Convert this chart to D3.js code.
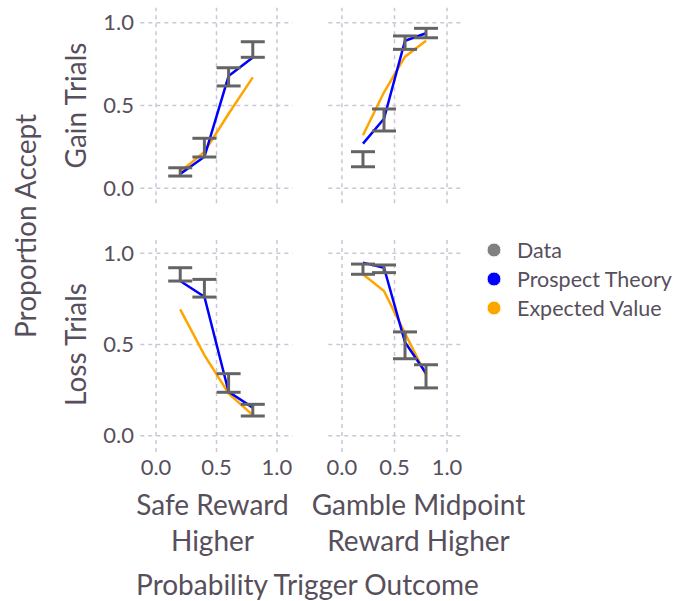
<!DOCTYPE html>
<html>
<head>
<meta charset="utf-8">
<script src="https://cdn.jsdelivr.net/npm/d3@7"></script>
<style>
  html, body { margin: 0; padding: 0; background: #fff; }
  svg text { font-family: Lato, "Open Sans", sans-serif; fill: #574f5c; }
</style>
</head>
<body>
<svg id="chart" width="675" height="601"></svg>
<script>
// Probability levels at which each condition was tested
const probs = [0.2, 0.4, 0.6, 0.8];

// Row / column facets
const rowLabels = ["Gain Trials", "Loss Trials"];
const colLabels = [["Safe Reward", "Higher"], ["Gamble Midpoint", "Reward Higher"]];
const tickValues = [0.0, 0.5, 1.0];

// Observed proportion accept: lower / upper bounds of the error bars
const gainSafeLo = [0.074, 0.189, 0.618, 0.791];
const gainSafeHi = [0.124, 0.302, 0.728, 0.885];
const gainGambleLo = [0.130, 0.346, 0.839, 0.909];
const gainGambleHi = [0.221, 0.479, 0.920, 0.966];
const lossSafeLo = [0.848, 0.760, 0.238, 0.108];
const lossSafeHi = [0.921, 0.857, 0.340, 0.172];
const lossGambleLo = [0.885, 0.894, 0.422, 0.262];
const lossGambleHi = [0.941, 0.936, 0.569, 0.389];

// Model predictions
const gainSafePT = [0.086, 0.190, 0.678, 0.790];
const gainSafeEV = [0.100, 0.220, 0.450, 0.670];
const gainGamblePT = [0.270, 0.420, 0.891, 0.936];
const gainGambleEV = [0.320, 0.580, 0.795, 0.891];
const lossSafePT = [0.848, 0.762, 0.241, 0.154];
const lossSafeEV = [0.693, 0.442, 0.232, 0.113];
const lossGamblePT = [0.949, 0.921, 0.512, 0.342];
const lossGambleEV = [0.885, 0.793, 0.561, 0.333];

const legendLabels = ["Data", "Prospect Theory", "Expected Value"];
const legendColors = ["#808080", "#0000ff", "#ffa500"];

const panels = [
  { row: 0, col: 0, lo: gainSafeLo, hi: gainSafeHi, pt: gainSafePT, ev: gainSafeEV },
  { row: 0, col: 1, lo: gainGambleLo, hi: gainGambleHi, pt: gainGamblePT, ev: gainGambleEV },
  { row: 1, col: 0, lo: lossSafeLo, hi: lossSafeHi, pt: lossSafePT, ev: lossSafeEV },
  { row: 1, col: 1, lo: lossGambleLo, hi: lossGambleHi, pt: lossGamblePT, ev: lossGambleEV }
];

// Layout of the facet grid
const xDomain = [-0.13, 1.13];
const yDomain = [-0.09, 1.09];
const colRanges = [[140.3, 292.7], [328.3, 460.7]];
const rowRanges = [[203.2, 7.8], [452.1, 236.9]];
const colLabelCenters = [212.5, 418.5];

const svg = d3.select("#chart");
const gridColor = "#c9c7d6";
const barColor = "#646464";
const titleSize = 28;
const tickSize = 22;

panels.forEach(p => {
  const x = d3.scaleLinear().domain(xDomain).range(colRanges[p.col]);
  const y = d3.scaleLinear().domain(yDomain).range(rowRanges[p.row]);
  const g = svg.append("g");

  // dashed grid
  g.selectAll("line.hgrid").data(tickValues).join("line")
    .attr("x1", x.range()[0]).attr("x2", x.range()[1])
    .attr("y1", d => y(d)).attr("y2", d => y(d))
    .attr("stroke", gridColor).attr("stroke-width", 1.5)
    .attr("stroke-dasharray", "4,4");
  g.selectAll("line.vgrid").data(tickValues).join("line")
    .attr("y1", y.range()[0]).attr("y2", y.range()[1])
    .attr("x1", d => x(d)).attr("x2", d => x(d))
    .attr("stroke", gridColor).attr("stroke-width", 1.5)
    .attr("stroke-dasharray", "4,4");

  const line = d3.line().x((d, i) => x(probs[i])).y(d => y(d));

  // expected value curve
  g.append("path").datum(p.ev).attr("d", line)
    .attr("fill", "none").attr("stroke", legendColors[2]).attr("stroke-width", 2.5);
  // prospect theory curve
  g.append("path").datum(p.pt).attr("d", line)
    .attr("fill", "none").attr("stroke", legendColors[1]).attr("stroke-width", 2.5);

  // error bars
  const capW = 12;
  const bars = g.selectAll("g.bar").data(probs).join("g");
  bars.append("line")
    .attr("x1", d => x(d)).attr("x2", d => x(d))
    .attr("y1", (d, i) => y(p.lo[i])).attr("y2", (d, i) => y(p.hi[i]))
    .attr("stroke", barColor).attr("stroke-width", 3);
  bars.append("line")
    .attr("x1", d => x(d) - capW).attr("x2", d => x(d) + capW)
    .attr("y1", (d, i) => y(p.lo[i])).attr("y2", (d, i) => y(p.lo[i]))
    .attr("stroke", barColor).attr("stroke-width", 3);
  bars.append("line")
    .attr("x1", d => x(d) - capW).attr("x2", d => x(d) + capW)
    .attr("y1", (d, i) => y(p.hi[i])).attr("y2", (d, i) => y(p.hi[i]))
    .attr("stroke", barColor).attr("stroke-width", 3);

  // y tick labels on the first column
  if (p.col === 0) {
    g.selectAll("text.ytick").data(tickValues).join("text")
      .attr("x", 134).attr("y", d => y(d)).attr("dy", "0.35em")
      .attr("text-anchor", "end").attr("font-size", tickSize)
      .text(d => d.toFixed(1));
  }
  // x tick labels on the bottom row
  if (p.row === 1) {
    g.selectAll("text.xtick").data(tickValues).join("text")
      .attr("x", d => x(d)).attr("y", 467).attr("dy", "0.35em")
      .attr("text-anchor", "middle").attr("font-size", tickSize)
      .text(d => d.toFixed(1));
  }
});

// row facet labels
rowLabels.forEach((lab, r) => {
  const yc = (rowRanges[r][0] + rowRanges[r][1]) / 2;
  svg.append("text")
    .attr("transform", `translate(76,${yc}) rotate(-90)`)
    .attr("dy", "0.35em").attr("text-anchor", "middle").attr("font-size", titleSize)
    .text(lab);
});

// column facet labels
colLabels.forEach((lines, c) => {
  lines.forEach((t, k) => {
    svg.append("text")
      .attr("x", colLabelCenters[c]).attr("y", 505 + k * 36).attr("dy", "0.35em")
      .attr("text-anchor", "middle").attr("font-size", titleSize)
      .text(t);
  });
});

// axis titles
svg.append("text")
  .attr("transform", "translate(26,226) rotate(-90)")
  .attr("dy", "0.35em").attr("text-anchor", "middle").attr("font-size", titleSize)
  .text("Proportion Accept");
svg.append("text")
  .attr("x", 307.5).attr("y", 585).attr("dy", "0.35em")
  .attr("text-anchor", "middle").attr("font-size", titleSize)
  .text("Probability Trigger Outcome");

// legend
const leg = svg.append("g");
legendLabels.forEach((lab, i) => {
  const yy = 250 + i * 29;
  leg.append("circle").attr("cx", 494).attr("cy", yy).attr("r", 7)
    .attr("fill", legendColors[i]).attr("stroke", "#fff").attr("stroke-width", 1);
  leg.append("text").attr("x", 517).attr("y", yy).attr("dy", "0.35em")
    .attr("font-size", 21.5).text(lab);
});
</script>
</body>
</html>
